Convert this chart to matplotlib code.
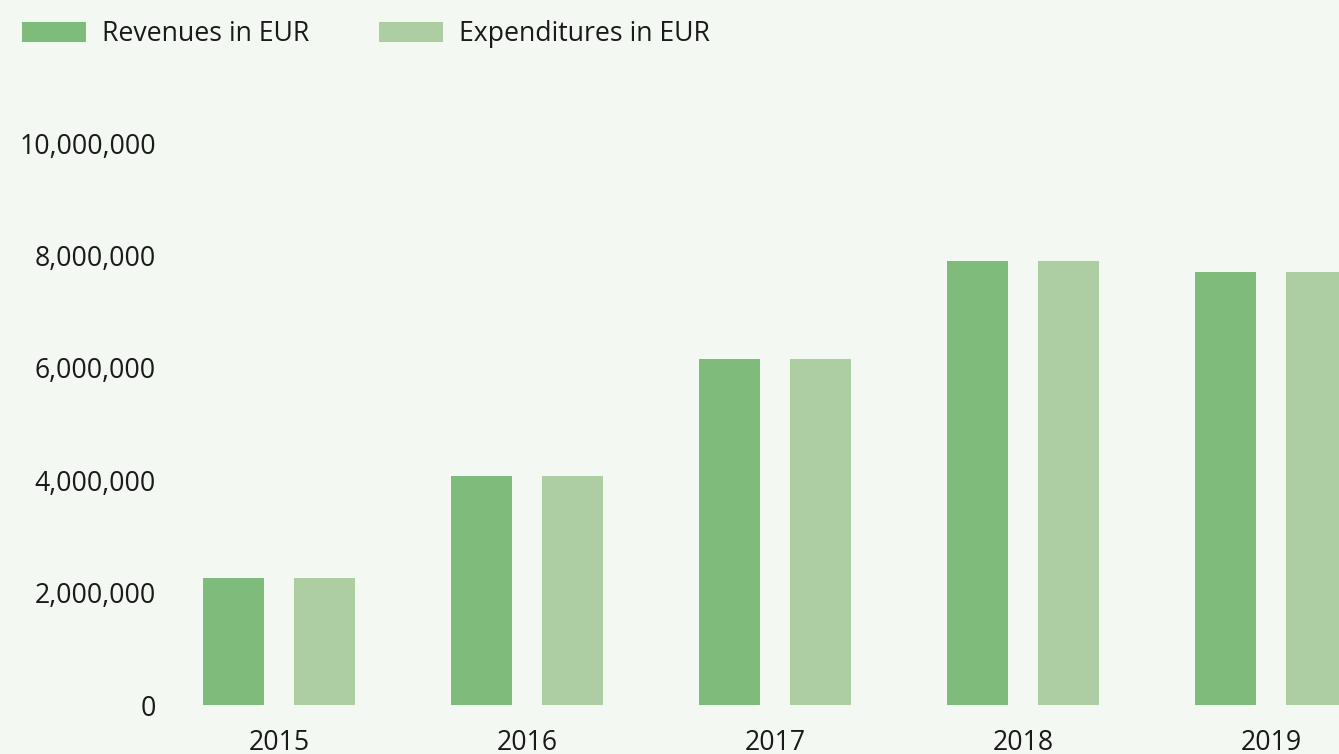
import matplotlib.pyplot as plt
import numpy as np
from matplotlib.ticker import FuncFormatter

plt.rcParams['font.family'] = ['Open Sans', 'DejaVu Sans']

years = ['2015', '2016', '2017', '2018', '2019']
revenues = [2260000, 4070000, 6160000, 7900000, 7700000]
expenditures = [2260000, 4070000, 6160000, 7900000, 7700000]

bg = '#f3f8f2'
dark = '#7fbb7b'
light = '#accea2'
txt = '#1a1a1a'

fig = plt.figure(figsize=(13.39, 7.54), dpi=100, facecolor=bg)
ax = fig.add_axes([160 / 1339, 49 / 754, 1 - 160 / 1339, 562 / 754])
ax.set_facecolor(bg)

x = np.arange(len(years))
w = 0.245
ax.bar(x - 0.183, revenues, w, color=dark, label='Revenues in EUR')
ax.bar(x + 0.183, expenditures, w, color=light, label='Expenditures in EUR')

ax.set_xlim((160 - 279) / 248, (1339 - 279) / 248)
ax.set_ylim(0, 10000000)
ax.set_yticks(range(0, 10000001, 2000000))
ax.yaxis.set_major_formatter(FuncFormatter(lambda v, p: f'{int(v):,}'))
ax.set_xticks(x)
ax.set_xticklabels(years)

for s in ax.spines.values():
    s.set_visible(False)
ax.tick_params(axis='both', length=0, labelsize=19.2, colors=txt)
ax.tick_params(axis='x', pad=17)
ax.tick_params(axis='y', pad=3)

fig.legend(loc='upper left', bbox_to_anchor=(22 / 1339, 1 - 20 / 754), ncol=2, frameon=False,
           borderpad=0, borderaxespad=0,
           fontsize=19.2, handlelength=2.4, handleheight=0.78, handletextpad=0.6,
           columnspacing=2.6, labelcolor=txt)

fig.savefig('out.png', dpi=100, facecolor=bg)
